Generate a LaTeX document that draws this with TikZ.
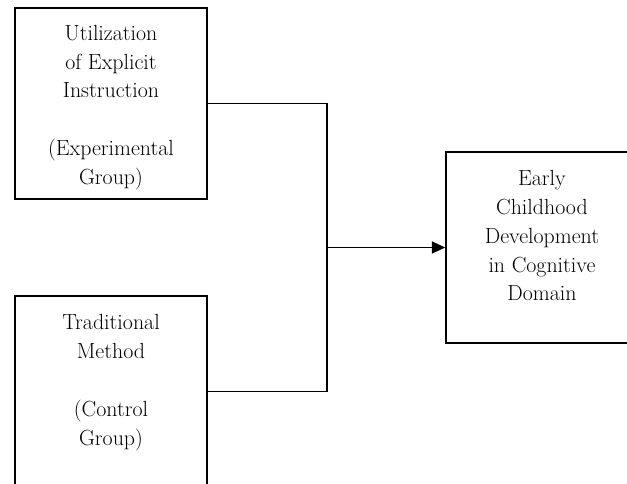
\documentclass[tikz,border=0pt]{standalone}
\usepackage{tikz}
\usetikzlibrary{arrows.meta}

\tikzset{
	box/.style={draw, line width=1.1pt, minimum width=5.08cm, minimum height=5.05cm, inner sep=0},
	txt/.style={align=center, inner sep=0, anchor=north, font=\fontsize{16.5}{21.75}\selectfont},
	link/.style={line width=1.1pt}
}

\begin{document}
\begin{tikzpicture}
	\useasboundingbox (0,0) rectangle (16.59,12.78);

	\node [box] (expbox) at (2.937, 10.04) {};
	\node [box] (conbox) at (2.937, 2.42) {};
	\node [box] (ecdbox) at (14.34, 6.231) {};

	\node [txt] (exptxt) at ([yshift=-13pt]expbox.north) {Utilization\\of Explicit\\Instruction\\[21.75pt](Experimental\\Group)};
	\node [txt] (contxt) at ([yshift=-14pt]conbox.north) {Traditional\\Method\\[21.75pt](Control\\Group)};
	\node [txt] (ecdtxt) at ([yshift=-14pt]ecdbox.north) {Early\\Childhood\\Development\\in Cognitive\\Domain};

	\coordinate (J) at (8.652, 6.231);

	\draw [link] (expbox.east) -| (J) |- (conbox.east);
	\draw [link, -{Triangle[length=10pt, width=9pt]}] (J) -- (ecdbox.west);
\end{tikzpicture}
\end{document}
